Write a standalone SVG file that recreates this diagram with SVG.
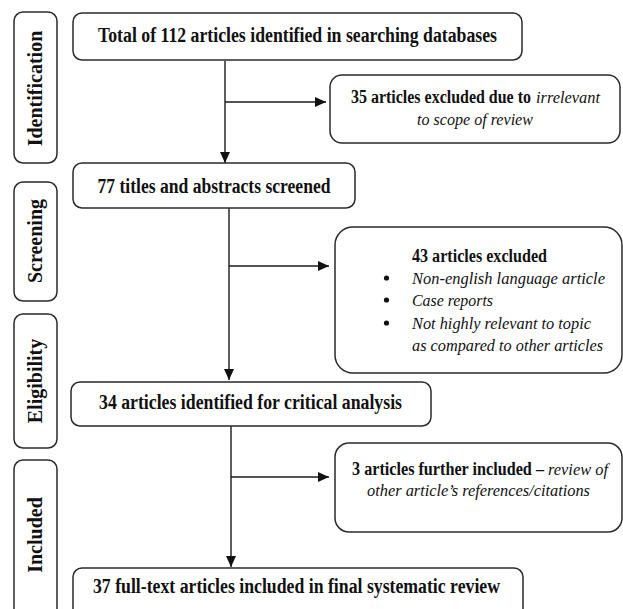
<svg xmlns="http://www.w3.org/2000/svg" width="623" height="609" viewBox="0 0 623 609">
<style>
.box{fill:#fff;stroke:#2a2a2a;stroke-width:1.5}
.side{font-family:'Liberation Serif','Times New Roman',serif;font-weight:bold;font-size:20px;fill:#111;text-anchor:middle}
.t{font-family:'Liberation Serif','Times New Roman',serif;font-weight:bold;font-size:20px;fill:#111;text-anchor:middle}
.l{font-family:'Liberation Serif','Times New Roman',serif;font-size:18px;fill:#111}
.b{font-weight:bold}
.i{font-style:italic;font-size:17.5px}
.c{fill:none;stroke:#1a1a1a;stroke-width:1.4}
</style>
<defs>
<marker id="ah" markerUnits="userSpaceOnUse" markerWidth="12" markerHeight="10" refX="11" refY="5" orient="auto">
<path d="M0,0 L11,5 L0,10 z" fill="#111"/>
</marker>
</defs>
<rect width="623" height="609" fill="#fff"/>

<g id="phase-identification">
<rect class="box" x="14" y="12" width="43" height="151" rx="9"/>
<text class="side" transform="translate(42,88.5) rotate(-90)">Identification</text>
</g>
<g id="phase-screening">
<rect class="box" x="14" y="182" width="43" height="119" rx="9"/>
<text class="side" transform="translate(42,241) rotate(-90)">Screening</text>
</g>
<g id="phase-eligibility">
<rect class="box" x="14" y="314" width="43" height="134" rx="9"/>
<text class="side" transform="translate(42,381) rotate(-90)">Eligibility</text>
</g>
<g id="phase-included">
<rect class="box" x="14" y="460" width="43" height="160" rx="9"/>
<text class="side" transform="translate(42,535) rotate(-90)">Included</text>
</g>

<g id="connectors">
<path class="c" d="M225,61 V163" marker-end="url(#ah)"/>
<path class="c" d="M225,102 H326" marker-end="url(#ah)"/>
<path class="c" d="M229,208 V380" marker-end="url(#ah)"/>
<path class="c" d="M229,266 H329" marker-end="url(#ah)"/>
<path class="c" d="M231,426 V567" marker-end="url(#ah)"/>
<path class="c" d="M231,477 H329" marker-end="url(#ah)"/>
</g>

<g id="n-identified">
<rect class="box" x="73" y="13" width="449" height="47" rx="9"/>
<text class="t" x="297.5" y="42" textLength="399" lengthAdjust="spacingAndGlyphs">Total of 112 articles identified in searching databases</text>
</g>
<g id="n-excluded-35">
<rect class="box" x="330" y="75" width="290" height="68" rx="12"/>
<text class="l b" x="351" y="103" textLength="180" lengthAdjust="spacingAndGlyphs">35 articles excluded due to</text>
<text class="l i" x="536" y="103" textLength="64" lengthAdjust="spacingAndGlyphs">irrelevant</text>
<text class="l i" x="475" y="125" text-anchor="middle" textLength="116" lengthAdjust="spacingAndGlyphs">to scope of review</text>
</g>
<g id="n-screened">
<rect class="box" x="73" y="163" width="282" height="45" rx="9"/>
<text class="t" x="214" y="193" textLength="233" lengthAdjust="spacingAndGlyphs">77 titles and abstracts screened</text>
</g>
<g id="n-excluded-43">
<rect class="box" x="335" y="227" width="287" height="146" rx="18"/>
<text class="l b" x="412" y="262" textLength="135" lengthAdjust="spacingAndGlyphs">43 articles excluded</text>
<circle cx="386.5" cy="278" r="2.6" fill="#111"/>
<text class="l i" x="412" y="284" textLength="193" lengthAdjust="spacingAndGlyphs">Non-english language article</text>
<circle cx="386.5" cy="300" r="2.6" fill="#111"/>
<text class="l i" x="412" y="306" textLength="81" lengthAdjust="spacingAndGlyphs">Case reports</text>
<circle cx="386.5" cy="323" r="2.6" fill="#111"/>
<text class="l i" x="412" y="329" textLength="179" lengthAdjust="spacingAndGlyphs">Not highly relevant to topic</text>
<text class="l i" x="412" y="351" textLength="191" lengthAdjust="spacingAndGlyphs">as compared to other articles</text>
</g>
<g id="n-critical">
<rect class="box" x="71" y="382" width="360" height="44" rx="9"/>
<text class="t" x="250.5" y="409" textLength="303" lengthAdjust="spacingAndGlyphs">34 articles identified for critical analysis</text>
</g>
<g id="n-further-3">
<rect class="box" x="335" y="443" width="287" height="89" rx="14"/>
<text class="l b" x="352" y="475" textLength="192" lengthAdjust="spacingAndGlyphs">3 articles further included –</text>
<text class="l i" x="548" y="475" textLength="60" lengthAdjust="spacingAndGlyphs">review of</text>
<text class="l i" x="478.5" y="496" text-anchor="middle" textLength="223" lengthAdjust="spacingAndGlyphs">other article’s references/citations</text>
</g>
<g id="n-final">
<rect class="box" x="73" y="568" width="450" height="50" rx="9"/>
<text class="t" x="296.5" y="593" textLength="407" lengthAdjust="spacingAndGlyphs">37 full-text articles included in final systematic review</text>
</g>
</svg>
